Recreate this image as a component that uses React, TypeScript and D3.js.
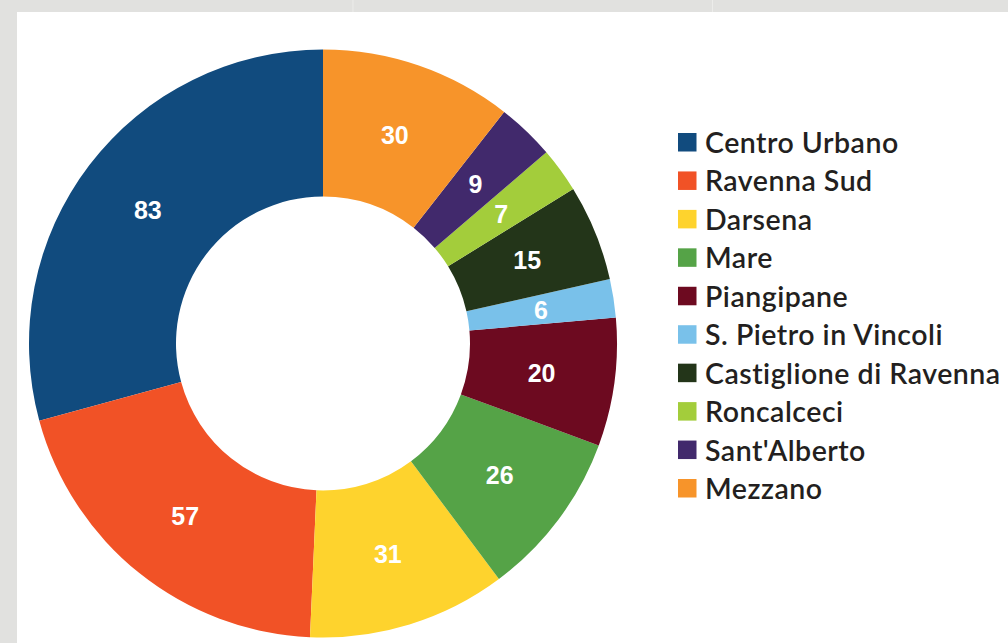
import React from "react";
import * as d3 from "d3";

const categories = [
  "Centro Urbano",
  "Ravenna Sud",
  "Darsena",
  "Mare",
  "Piangipane",
  "S. Pietro in Vincoli",
  "Castiglione di Ravenna",
  "Roncalceci",
  "Sant'Alberto",
  "Mezzano",
];
const values = [83, 57, 31, 26, 20, 6, 15, 7, 9, 30];
const colors = [
  "#114b7e",
  "#f15226",
  "#fed32d",
  "#55a347",
  "#6d0a20",
  "#79c1ea",
  "#233519",
  "#a3cd3b",
  "#41296c",
  "#f7942a",
];

export default function App() {
  const W = 1008;
  const H = 643;
  const cx = 323;
  const cy = 343.5;
  const rOuter = 294;
  const rInner = 147;

  const data = categories.map((c, i) => ({ c, v: values[i], col: colors[i] }));
  // draw counter-clockwise from 12 o'clock in legend order
  const pie = d3
    .pie<any>()
    .value((d) => d.v)
    .sort(null)
    .startAngle(0)
    .endAngle(-2 * Math.PI);
  const arcs = pie(data);
  const arc = d3.arc<any>().innerRadius(rInner).outerRadius(rOuter);
  const labelArc = d3.arc<any>().innerRadius(rInner).outerRadius(rOuter);

  const legendY = d3
    .scalePoint<string>()
    .domain(categories)
    .range([142, 488]);

  return (
    <svg
      width={W}
      height={H}
      style={{ position: "absolute", left: 0, top: 0, display: "block" }}
    >
      <rect x={0} y={0} width={W} height={H} fill="#e1e1df" />
      <line x1={353} y1={0} x2={353} y2={12} stroke="#ececea" strokeWidth={1} />
      <line x1={712.5} y1={0} x2={712.5} y2={12} stroke="#ececea" strokeWidth={1} />
      <rect x={17} y={12} width={W - 17} height={H - 12} fill="#ffffff" />
      <g transform={`translate(${cx},${cy})`}>
        {arcs.map((a, i) => (
          <path key={i} d={arc(a) as string} fill={a.data.col} />
        ))}
        {arcs.map((a, i) => {
          const [x, y] = labelArc.centroid(a);
          return (
            <text
              key={"l" + i}
              x={x}
              y={y}
              textAnchor="middle"
              dominantBaseline="central"
              fill="#ffffff"
              fontFamily="Liberation Sans, Arial, sans-serif"
              fontWeight="bold"
              fontSize={25}
            >
              {a.data.v}
            </text>
          );
        })}
      </g>
      <g>
        {categories.map((c, i) => {
          const y = legendY(c)!;
          return (
            <g key={c}>
              <rect x={678} y={y - 9} width={18.5} height={18.5} fill={colors[i]} />
              <text
                x={705}
                y={y}
                dominantBaseline="central"
                fill="#231f20"
                fontFamily="Lato, sans-serif"
                fontWeight={600}
                fontSize={28.5}
                letterSpacing={0.5}
              >
                {c}
              </text>
            </g>
          );
        })}
      </g>
    </svg>
  );
}
